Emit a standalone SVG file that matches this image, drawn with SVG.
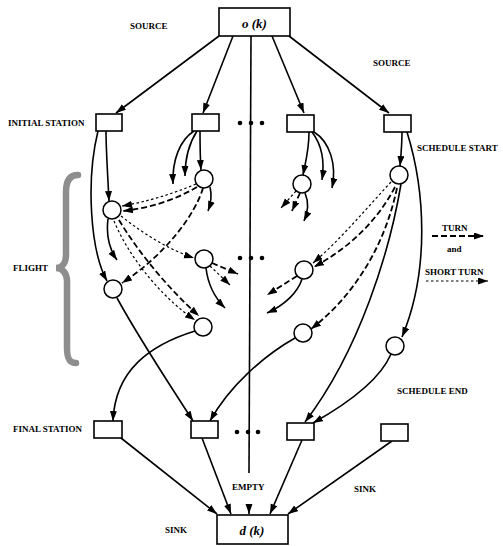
<svg xmlns="http://www.w3.org/2000/svg" width="503" height="546" viewBox="0 0 503 546">
<style>
.lbl{font-family:"Liberation Serif","Times New Roman",serif;font-weight:bold;font-size:9px;fill:#000}
.big{font-family:"Liberation Serif","Times New Roman",serif;font-weight:bold;font-style:italic;font-size:13px;fill:#000}
.box{fill:#fff;stroke:#000;stroke-width:1.6}
.node{fill:#fff;stroke:#000;stroke-width:1.5}
.s{fill:none;stroke:#000;stroke-width:1.6}
.t{fill:none;stroke:#000;stroke-width:1.8;stroke-dasharray:6 3}
.st{fill:none;stroke:#000;stroke-width:1.2;stroke-dasharray:2.5 2.5}
.dot{fill:#000}
</style>
<defs>
<marker id="ah" markerUnits="userSpaceOnUse" markerWidth="11" markerHeight="8" refX="10" refY="3.5" orient="auto">
<path d="M0,0 L10,3.5 L0,7 z" fill="#000"/>
</marker>
</defs>
<rect width="503" height="546" fill="#fff"/>

<g id="brace">
<path d="M78,175 C69,175 66,182 66,192 L66,255 C66,263 62,268 56,268 C62,268 67,273 67,281 L67,348 C67,358 69,363 76,363" fill="none" stroke="#8e8e8e" stroke-width="6.5" stroke-linecap="round"/>
</g>

<g id="connectors">
<!-- source to initial stations -->
<path class="s" d="M219,36 L116,113" marker-end="url(#ah)"/>
<path class="s" d="M233,36 L203,113" marker-end="url(#ah)"/>
<path class="s" d="M272,36 L304,113" marker-end="url(#ah)"/>
<path class="s" d="M289,36 L389,113" marker-end="url(#ah)"/>
<!-- empty -->
<path class="s" d="M251,36 L249,473"/>
<path class="s" d="M249,504 L249,514" marker-end="url(#ah)"/>
<!-- final stations to sink -->
<path class="s" d="M121,438 L217,514" marker-end="url(#ah)"/>
<path class="s" d="M202,438 L231,514" marker-end="url(#ah)"/>
<path class="s" d="M302,440 L270,514" marker-end="url(#ah)"/>
<path class="s" d="M392,441 L288,514" marker-end="url(#ah)"/>
<!-- initial station 1 -->
<path class="s" d="M106,131 C106,150 108,180 109,201" marker-end="url(#ah)"/>
<path class="s" d="M98,131 C86,180 90,250 107,281" marker-end="url(#ah)"/>
<!-- initial station 2 -->
<path class="s" d="M194,131 C180,140 172,160 173,184" marker-end="url(#ah)"/>
<path class="s" d="M197,131 C188,145 185,160 185,176" marker-end="url(#ah)"/>
<path class="s" d="M200,131 C200,145 200,155 201,170" marker-end="url(#ah)"/>
<!-- C -->
<path class="s" d="M210,187 C212,195 211,203 208,211" marker-end="url(#ah)"/>
<path class="st" d="M196,184 C170,195 145,202 122,206" marker-end="url(#ah)"/>
<path class="t" d="M197,187 C175,200 150,208 123,211" marker-end="url(#ah)"/>
<path class="t" d="M203,188 C195,215 165,255 122,283" marker-end="url(#ah)"/>
<!-- A -->
<path class="s" d="M108,219 C106,235 110,250 117,260" marker-end="url(#ah)"/>
<path class="st" d="M121,216 C145,235 170,250 194,258" marker-end="url(#ah)"/>
<path class="t" d="M119,220 C140,255 170,290 199,316" marker-end="url(#ah)"/>
<path class="st" d="M114,221 C130,260 165,300 195,320" marker-end="url(#ah)"/>
<!-- D -->
<path class="t" d="M212,263 L238,274" marker-end="url(#ah)"/>
<path class="st" d="M210,266 L230,285" marker-end="url(#ah)"/>
<path class="s" d="M206,268 C208,285 215,298 225,308" marker-end="url(#ah)"/>
<!-- initial station 3 -->
<path class="s" d="M309,132 C309,150 306,160 303,175" marker-end="url(#ah)"/>
<path class="s" d="M312,132 C322,145 325,160 322,180" marker-end="url(#ah)"/>
<path class="s" d="M314,132 C330,142 337,165 332,188" marker-end="url(#ah)"/>
<!-- F -->
<path class="st" d="M296,191 L281,208" marker-end="url(#ah)"/>
<path class="t" d="M300,193 L292,211" marker-end="url(#ah)"/>
<path class="s" d="M305,193 C308,200 309,210 304,221" marker-end="url(#ah)"/>
<!-- initial station 4 -->
<path class="s" d="M402,132 C402,145 401,155 400,166" marker-end="url(#ah)"/>
<path class="s" d="M407,132 C425,190 430,270 402,337" marker-end="url(#ah)"/>
<!-- G -->
<path class="st" d="M391,182 C365,210 340,240 313,263" marker-end="url(#ah)"/>
<path class="t" d="M395,187 C375,225 345,250 314,267" marker-end="url(#ah)"/>
<path class="t" d="M397,188 C385,245 355,295 311,329" marker-end="url(#ah)"/>
<path class="s" d="M401,184 C390,250 360,350 305,422" marker-end="url(#ah)"/>
<!-- H -->
<path class="t" d="M297,276 L267,295" marker-end="url(#ah)"/>
<path class="s" d="M302,279 C298,292 285,305 267,313" marker-end="url(#ah)"/>
<!-- to final stations -->
<path class="s" d="M295,338 C265,355 230,385 210,421" marker-end="url(#ah)"/>
<path class="s" d="M391,354 C380,380 345,405 313,423" marker-end="url(#ah)"/>
<path class="s" d="M195,331 C150,345 115,370 113,421" marker-end="url(#ah)"/>
<path class="s" d="M117,298 C140,340 170,385 193,421" marker-end="url(#ah)"/>
<!-- legend -->
<path class="t" d="M432,236 L484,236" marker-end="url(#ah)"/>
<path class="st" d="M426,281 L488,281" marker-end="url(#ah)"/>
</g>

<g id="source"><rect class="box" x="219" y="8" width="71" height="28"/><text class="big" x="254.5" y="28" text-anchor="middle">o (k)</text></g>
<g id="sink"><rect class="box" x="217" y="515" width="71" height="29"/><text class="big" x="252" y="535" text-anchor="middle">d (k)</text></g>

<g id="init1"><rect class="box" x="96" y="114" width="26" height="17"/></g>
<g id="init2"><rect class="box" x="192" y="114" width="27" height="17"/></g>
<g id="init3"><rect class="box" x="287" y="115" width="27" height="17"/></g>
<g id="init4"><rect class="box" x="384" y="115" width="27" height="17"/></g>

<g id="final1"><rect class="box" x="94" y="421" width="28" height="17"/></g>
<g id="final2"><rect class="box" x="191" y="421" width="27" height="17"/></g>
<g id="final3"><rect class="box" x="287" y="423" width="27" height="17"/></g>
<g id="final4"><rect class="box" x="381" y="424" width="27" height="17"/></g>

<g id="nodeA"><circle class="node" cx="112" cy="210" r="9"/></g>
<g id="nodeB"><circle class="node" cx="113" cy="289" r="9"/></g>
<g id="nodeC"><circle class="node" cx="204" cy="179" r="9"/></g>
<g id="nodeD"><circle class="node" cx="204" cy="259" r="9"/></g>
<g id="nodeE"><circle class="node" cx="203" cy="327" r="9"/></g>
<g id="nodeF"><circle class="node" cx="302" cy="184" r="9"/></g>
<g id="nodeG"><circle class="node" cx="399" cy="175" r="9"/></g>
<g id="nodeH"><circle class="node" cx="304" cy="270" r="9"/></g>
<g id="nodeI"><circle class="node" cx="303" cy="333" r="9"/></g>
<g id="nodeJ"><circle class="node" cx="395" cy="346" r="9"/></g>

<g id="dots">
<circle class="dot" cx="240" cy="123" r="2.3"/><circle class="dot" cx="251" cy="123" r="2.3"/><circle class="dot" cx="262" cy="123" r="2.3"/>
<circle class="dot" cx="240" cy="258" r="2.3"/><circle class="dot" cx="251" cy="258" r="2.3"/><circle class="dot" cx="262" cy="258" r="2.3"/>
<circle class="dot" cx="237" cy="432" r="2.3"/><circle class="dot" cx="248" cy="432" r="2.3"/><circle class="dot" cx="258" cy="432" r="2.3"/>
</g>

<g id="labels">
<text class="lbl" x="130" y="29">SOURCE</text>
<text class="lbl" x="373" y="66">SOURCE</text>
<text class="lbl" x="8" y="126">INITIAL STATION</text>
<text class="lbl" x="417" y="151">SCHEDULE START</text>
<text class="lbl" x="13" y="271">FLIGHT</text>
<text class="lbl" x="442" y="231">TURN</text>
<text class="lbl" x="447" y="252">and</text>
<text class="lbl" x="425" y="275">SHORT TURN</text>
<text class="lbl" x="397" y="394">SCHEDULE END</text>
<text class="lbl" x="13" y="432">FINAL STATION</text>
<text class="lbl" x="232" y="490">EMPTY</text>
<text class="lbl" x="354" y="492">SINK</text>
<text class="lbl" x="165" y="533">SINK</text>
</g>
</svg>
